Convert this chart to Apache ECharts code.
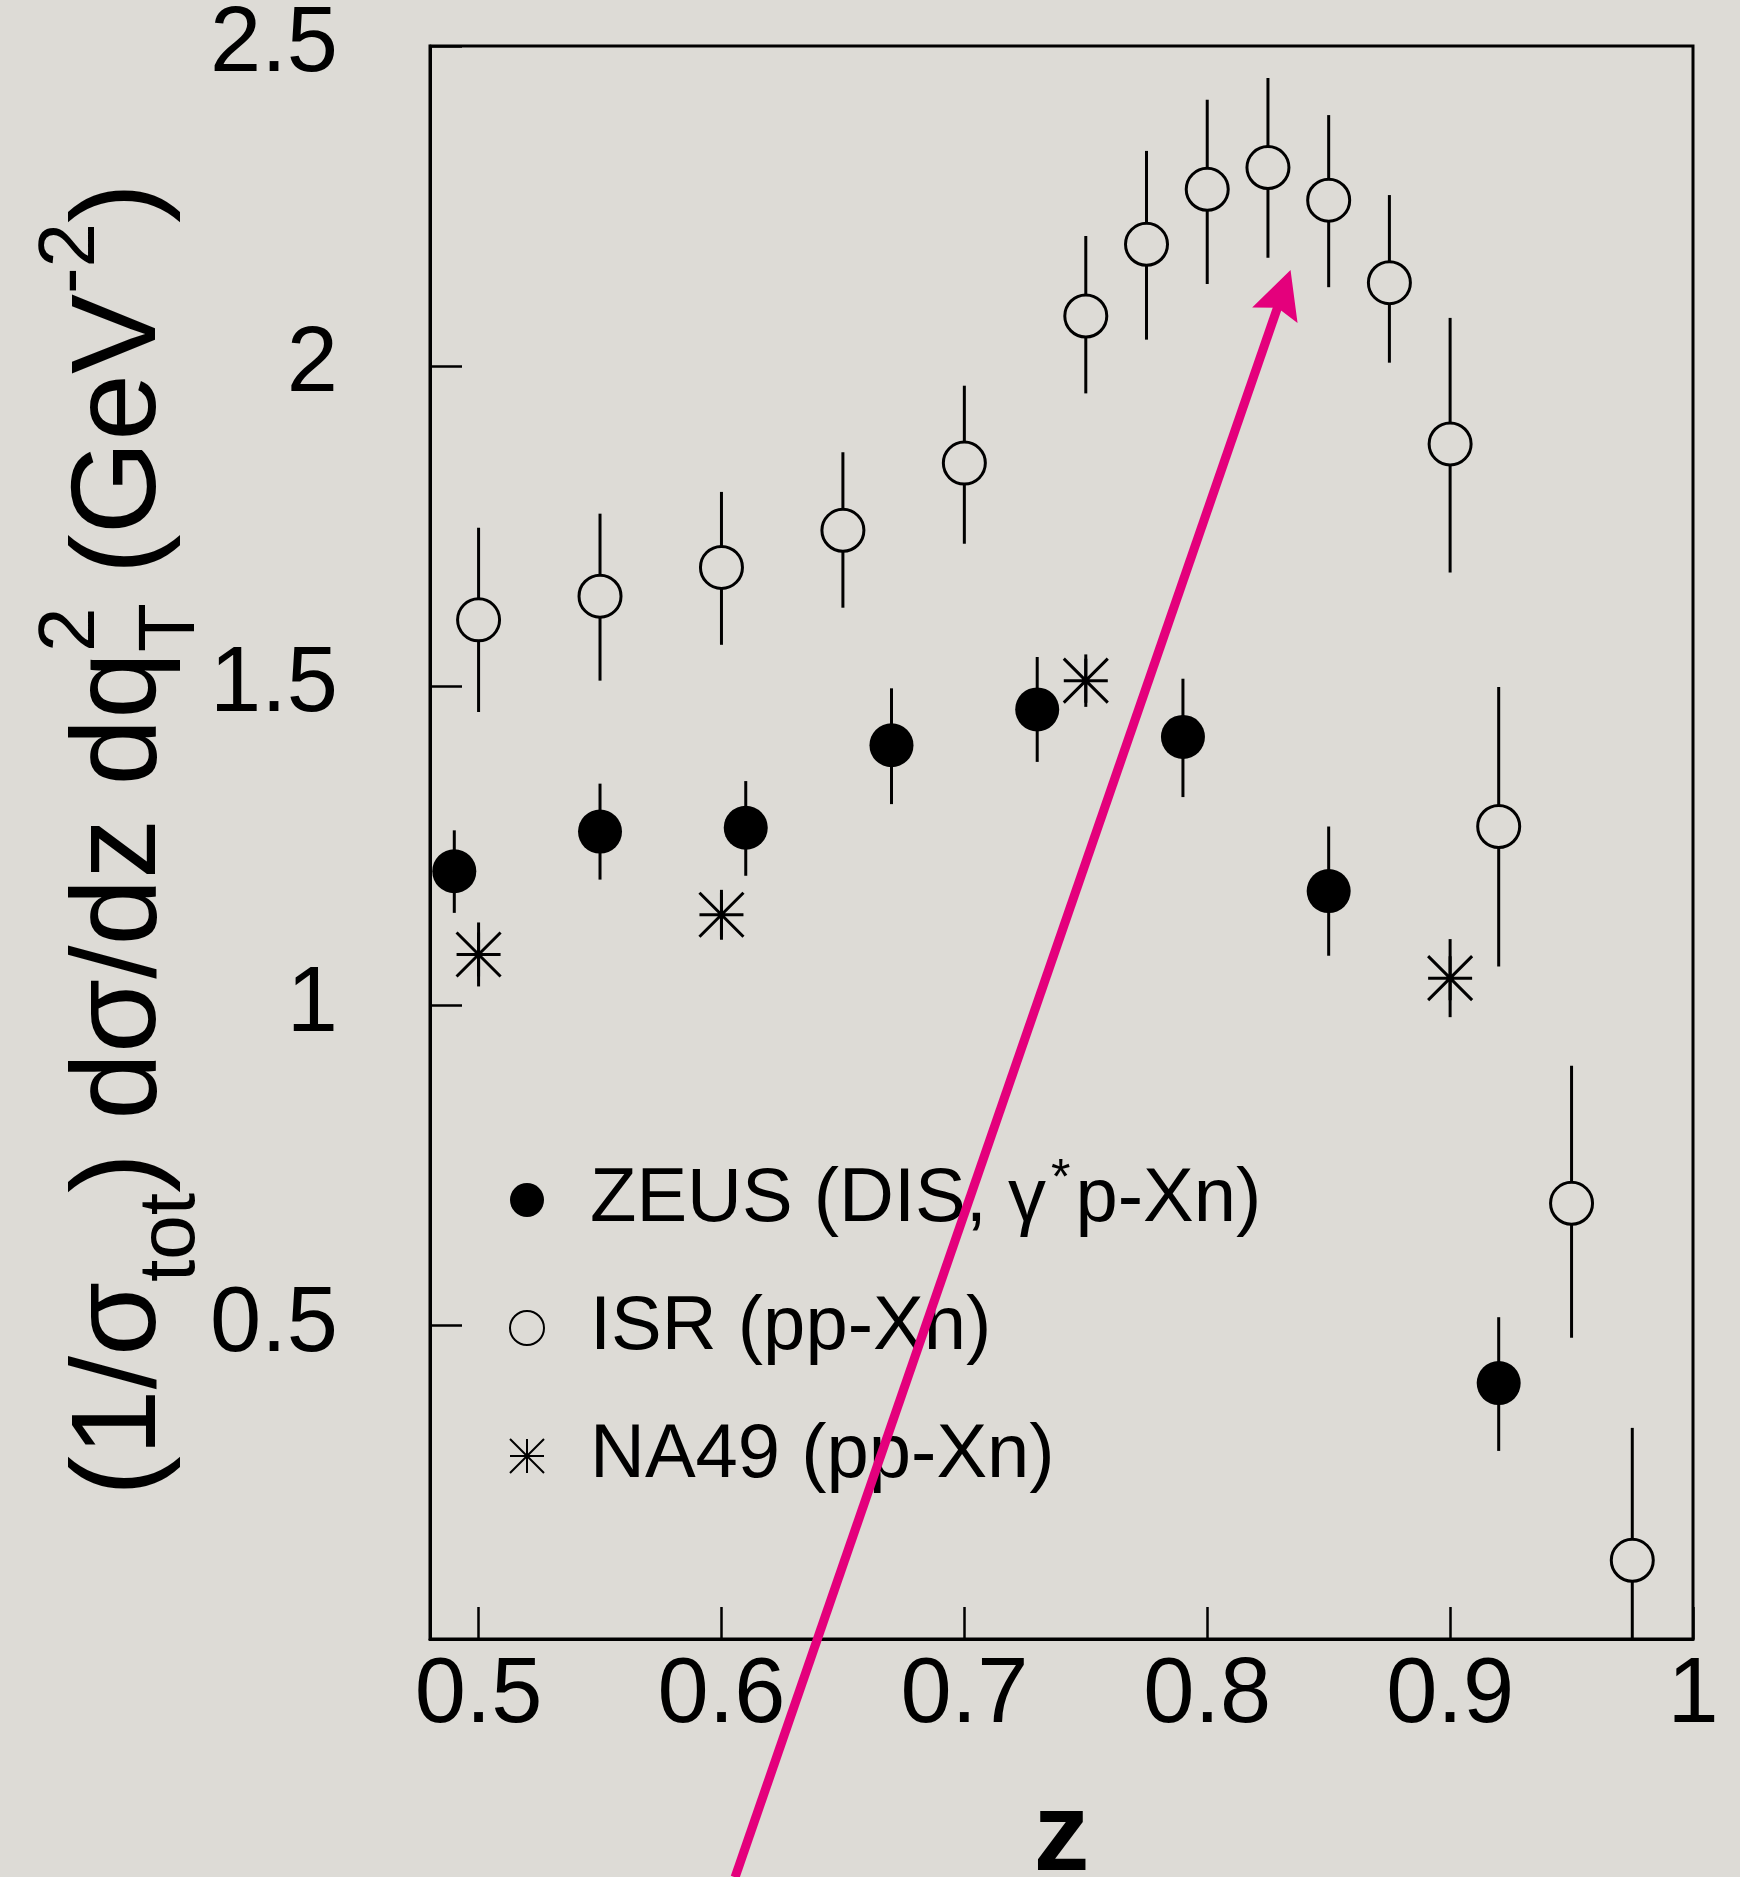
<!DOCTYPE html>
<html>
<head>
<meta charset="utf-8">
<script src="https://cdn.jsdelivr.net/npm/echarts@6/dist/echarts.min.js"></script>
<style>
  html, body { margin: 0; padding: 0; background: #dddbd6; }
  #chart { width: 1740px; height: 1877px; }
</style>
</head>
<body>
<div id="chart"></div>
<script>
// ZEUS (DIS) - filled circles
const zeusZ = [0.49, 0.55, 0.61, 0.67, 0.73, 0.79, 0.85, 0.92];
const zeusVal = [1.210, 1.272, 1.278, 1.407, 1.463, 1.420, 1.179, 0.410];
const zeusLow = [1.145, 1.197, 1.203, 1.315, 1.381, 1.326, 1.078, 0.304];
const zeusHigh = [1.274, 1.347, 1.351, 1.496, 1.545, 1.511, 1.280, 0.513];

// ISR - open circles
const isrZ = [0.5, 0.55, 0.6, 0.65, 0.7, 0.75, 0.775, 0.8, 0.825, 0.85, 0.875, 0.9, 0.92, 0.95, 0.975];
const isrVal = [1.603, 1.640, 1.685, 1.743, 1.848, 2.078, 2.190, 2.276, 2.310, 2.259, 2.130, 1.878, 1.280, 0.691, 0.133];
const isrLow = [1.459, 1.508, 1.564, 1.622, 1.722, 1.957, 2.041, 2.128, 2.169, 2.123, 2.005, 1.677, 1.061, 0.481, 0.0];
const isrHigh = [1.747, 1.769, 1.803, 1.865, 1.969, 2.203, 2.336, 2.416, 2.450, 2.392, 2.267, 2.075, 1.498, 0.906, 0.340];

// NA49 - stars
const na49Z = [0.5, 0.6, 0.75, 0.9];
const na49Val = [1.080, 1.142, 1.508, 1.043];
const na49Low = [1.030, 1.103, 1.467, 0.982];
const na49High = [1.130, 1.181, 1.549, 1.104];

const xTicks = [0.5, 0.6, 0.7, 0.8, 0.9, 1];
const yTicks = [0.5, 1, 1.5, 2, 2.5];

// magenta annotation arrow, in data coordinates
const arrowStart = [0.6056, -0.3625];
const arrowTip = [0.8343, 2.150];

const names = ['ZEUS (DIS, γ* p-Xn)', 'ISR (pp-Xn)', 'NA49 (pp-Xn)'];
const FONT = "'Liberation Sans', Arial, Helvetica, sans-serif";
const BG = '#dddbd6';
const STAR = 'path://M0,22L44,22M22,0L22,44M0,0L44,44M44,0L0,44';

const zip = (...cols) => cols[0].map((_, i) => cols.map(c => c[i]));

const errorBars = (name, xs, lo, hi) => ({
    type: 'custom',
    name: name + ' err',
    z: 1,
    clip: true,
    silent: true,
    data: zip(xs, lo, hi),
    renderItem: (params, api) => {
        const a = api.coord([api.value(0), api.value(1)]);
        const b = api.coord([api.value(0), api.value(2)]);
        return {
            type: 'line',
            shape: { x1: a[0], y1: a[1], x2: b[0], y2: b[1] },
            style: { stroke: '#000', lineWidth: 3 }
        };
    }
});

const chart = echarts.init(document.getElementById('chart'));

const option = {
    backgroundColor: BG,
    animation: false,
    grid: {
        left: 430, right: 47, top: 46, bottom: 238,
        show: true, borderColor: '#000', borderWidth: 3,
        backgroundColor: 'transparent',
        containLabel: false, outerBoundsMode: 'none'
    },
    legend: {
        orient: 'vertical',
        left: 504, top: 1150,
        itemWidth: 34, itemHeight: 34, itemGap: 38,
        selectedMode: false,
        data: names,
        formatter: (name) => name === names[0]
            ? '{n|ZEUS (DIS, γ}{sup|*}{n|p-Xn)}'
            : '{n|' + name + '}',
        textStyle: {
            color: '#000', fontFamily: FONT, fontSize: 76, lineHeight: 90,
            padding: [0, 0, 0, 41],
            rich: {
                n: { fontSize: 76, lineHeight: 90, fontFamily: FONT, color: '#000' },
                sup: { fontSize: 50, lineHeight: 28, verticalAlign: 'top', padding: [0, 5, 0, 5], fontFamily: FONT, color: '#000' }
            }
        }
    },
    xAxis: {
        type: 'value', min: 0.48, max: 1.0,
        name: 'z', nameLocation: 'middle', nameGap: 144,
        nameTextStyle: { fontSize: 112, fontWeight: 'bold', fontFamily: FONT, color: '#000' },
        axisLine: { show: true, lineStyle: { color: '#000', width: 3 } },
        axisTick: { show: true, inside: true, length: 32, customValues: xTicks, lineStyle: { color: '#000', width: 2.5 } },
        axisLabel: { customValues: xTicks, margin: 12, fontSize: 92, fontFamily: FONT, color: '#000', formatter: v => String(v) },
        splitLine: { show: false }
    },
    yAxis: {
        type: 'value', min: 0.01, max: 2.5,
        axisLine: { show: true, lineStyle: { color: '#000', width: 3 } },
        axisTick: { show: true, inside: true, length: 32, customValues: yTicks, lineStyle: { color: '#000', width: 2.5 } },
        axisLabel: { customValues: yTicks, margin: 92, fontSize: 92, fontFamily: FONT, color: '#000', formatter: v => String(v) },
        splitLine: { show: false }
    },
    series: [
        errorBars('zeus', zeusZ, zeusLow, zeusHigh),
        errorBars('isr', isrZ, isrLow, isrHigh),
        errorBars('na49', na49Z, na49Low, na49High),
        {
            type: 'scatter', name: names[0], z: 3,
            symbol: 'circle', symbolSize: 44,
            itemStyle: { color: '#000', opacity: 1 },
            data: zip(zeusZ, zeusVal)
        },
        {
            type: 'scatter', name: names[1], z: 3,
            symbol: 'circle', symbolSize: 42,
            itemStyle: { color: BG, borderColor: '#000', borderWidth: 3, opacity: 1 },
            data: zip(isrZ, isrVal)
        },
        {
            type: 'scatter', name: names[2], z: 3,
            symbol: STAR, symbolSize: 44,
            itemStyle: { color: '#000', borderColor: '#000', borderWidth: 3, opacity: 1 },
            data: zip(na49Z, na49Val)
        }
    ]
};

chart.setOption(option);

// y axis title, rotated, with sub/superscripts (left aligned so the T/2 pair stacks)
const yTitle = {
    type: 'text',
    x: 122, y: 1496,
    rotation: Math.PI / 2,
    z: 10,
    style: {
        text: '{m|(1/σ}{tot|tot}{m|) dσ/dz dq}{t|T}{s|2}{m| (GeV}{s|-2}{m|)}',
        align: 'left',
        verticalAlign: 'middle',
        fill: '#000',
        fontFamily: FONT,
        fontSize: 120,
        rich: {
            m: { fontSize: 120, lineHeight: 180, fontFamily: FONT },
            tot: { fontSize: 80, lineHeight: 52, verticalAlign: 'bottom', fontFamily: FONT },
            t: { fontSize: 80, lineHeight: 90, verticalAlign: 'bottom', width: 0, align: 'left', fontFamily: FONT },
            s: { fontSize: 80, lineHeight: 86, verticalAlign: 'top', fontFamily: FONT }
        }
    }
};

// arrow
const p0 = chart.convertToPixel({ gridIndex: 0 }, arrowStart);
const p1 = chart.convertToPixel({ gridIndex: 0 }, arrowTip);
const dx = p1[0] - p0[0], dy = p1[1] - p0[1];
const len = Math.sqrt(dx * dx + dy * dy);
const ux = dx / len, uy = dy / len;
const nx = -uy, ny = ux;
const headLen = 48, headHalf = 24, notch = 8;
const base = [p1[0] - ux * headLen, p1[1] - uy * headLen];
const inner = [base[0] + ux * notch, base[1] + uy * notch];

chart.setOption({
    graphic: [
        yTitle,
        {
            type: 'line', z: 20, silent: true,
            shape: { x1: p0[0], y1: p0[1], x2: inner[0] + ux * 2, y2: inner[1] + uy * 2 },
            style: { stroke: '#e4007c', lineWidth: 9 }
        },
        {
            type: 'polygon', z: 20, silent: true,
            shape: {
                points: [
                    p1,
                    [base[0] + nx * headHalf, base[1] + ny * headHalf],
                    inner,
                    [base[0] - nx * headHalf, base[1] - ny * headHalf]
                ]
            },
            style: { fill: '#e4007c' }
        }
    ]
});
</script>
</body>
</html>
